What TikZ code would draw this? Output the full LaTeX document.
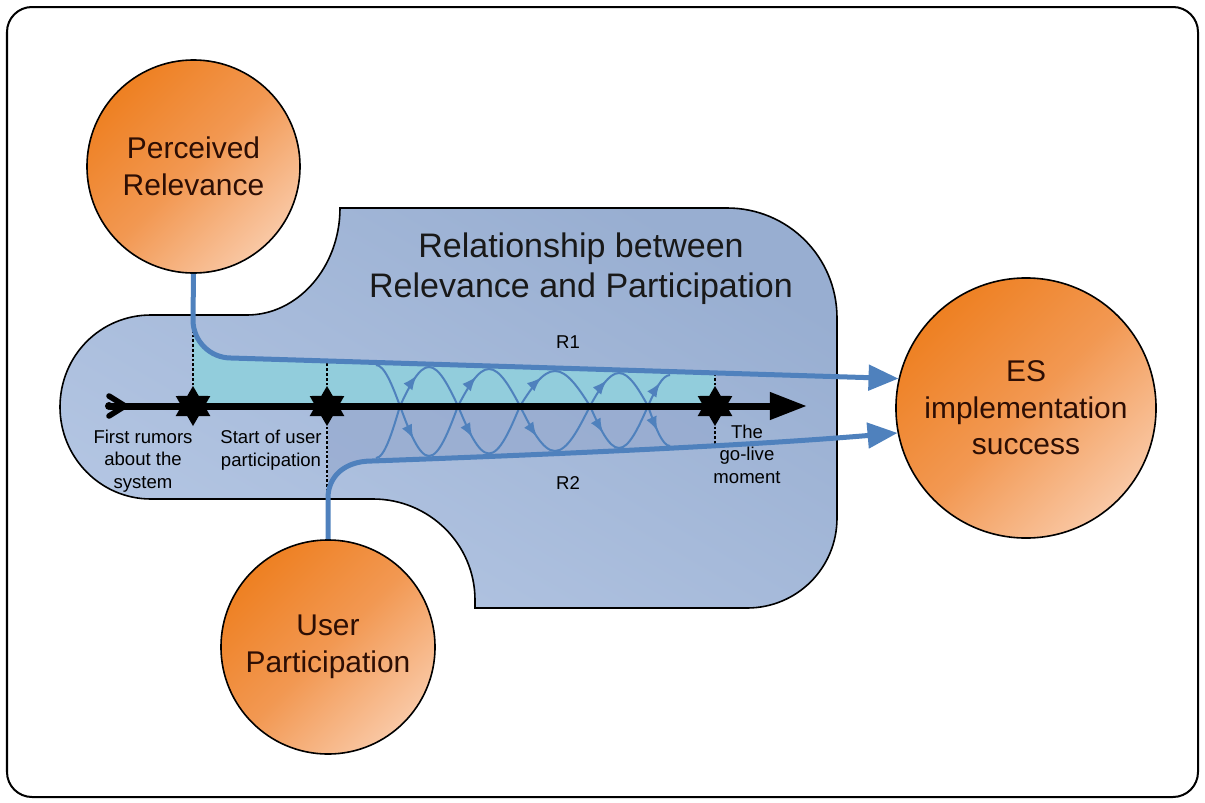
\documentclass[tikz,border=0pt]{standalone}
\usepackage{fontspec}
\setmainfont{Liberation Sans}
\usetikzlibrary{arrows.meta,shapes.geometric,decorations.markings}
\definecolor{rblue}{RGB}{79,129,189}
\definecolor{regA}{RGB}{152,174,209}
\definecolor{regB}{RGB}{180,198,227}
\definecolor{cyanfill}{RGB}{146,205,220}
\definecolor{bandfill}{RGB}{150,170,207}
\definecolor{orA}{RGB}{238,128,34}
\definecolor{orM}{RGB}{242,152,82}
\definecolor{orB}{RGB}{249,200,165}
\definecolor{ctext}{RGB}{45,14,4}
% #1 style, #2 crossing x, #3,#4 left end, #5,#6 right end
\newcommand\wv[6]{\draw[#1] (#3,#4) .. controls ({#2+0.65*(#3-#2)},#4) and ({#2+0.3253*(#3-#2)},{406+0.511*(#4-406)}) .. (#2,406) .. controls ({#2+0.3253*(#5-#2)},{406+0.511*(#6-406)}) and ({#2+0.65*(#5-#2)},#6) .. (#5,#6);}
\begin{document}
\begin{tikzpicture}[x=0.025cm,y=-0.025cm,
  frame/.style={draw=black,line width=0.05cm,rounded corners=0.625cm},
  region/.style={draw=black,line width=0.04cm,top color=regA,bottom color=regB,shading angle=-30},
  rline/.style={draw=rblue,line width=0.125cm,-{Triangle[length=0.75cm,width=0.625cm]}},
  wavebase/.style={rblue,line width=0.05cm,postaction={decorate}},
  wavedown/.style={wavebase,decoration={markings,mark=at position 0.78 with {\arrow{Latex[length=0.36cm,width=0.28cm]}}}},
  waveup/.style={wavebase,decoration={markings,mark=at position 0.86 with {\arrow{Latex[length=0.36cm,width=0.28cm]}}}},
  dline/.style={draw=black,line width=0.04cm,dash pattern=on 0.07cm off 0.05cm},
  startick/.style={star,star points=6,star point ratio=1.73,minimum size=1.0cm,fill=black,inner sep=0pt},
  bigcirc/.style={circle,draw=black,line width=0.04cm,inner sep=0pt,align=center,text=ctext,font=\fontsize{21.3pt}{26pt}\selectfont,top color=orA,bottom color=orB,middle color=orM,shading angle=45},
  small/.style={align=center,font=\fontsize{13.2pt}{16pt}\selectfont,inner sep=0pt}
]
\useasboundingbox (0,0) rectangle (1205,803);
\draw[frame] (7,7) rectangle (1198,797);

% blue region
\path[region] (151,315) -- (247,315)
  .. controls (298,315) and (340,267) .. (340,208)
  -- (727,208)
  .. controls (788,208) and (837,257) .. (837,318)
  -- (837,518)
  .. controls (837,568) and (797,608) .. (747,608)
  -- (475,608) -- (475,600)
  .. controls (475,544) and (429,499) .. (373,499)
  -- (151,499)
  .. controls (100,499) and (60,457) .. (60,407)
  .. controls (60,356) and (100,315) .. (151,315) -- cycle;

% cyan band and darker band
\fill[cyanfill] (193,320) .. controls (193,341) and (210,358) .. (231,358) -- (715,374.3) -- (715,406) -- (193,406) -- cycle;
\fill[bandfill,opacity=0.7] (328,406) -- (328,498) .. controls (328,477) and (344,461) .. (372,461) -- (715,447) -- (715,406) -- cycle;

% waves
\wv{wavedown}{400}{376}{365}{429}{456}
\wv{waveup}{400}{376}{458}{429}{367}
\wv{waveup}{458}{429}{456}{489}{369}
\wv{wavedown}{458}{429}{367}{489}{453.5}
\wv{wavedown}{520}{489}{369}{555}{451}
\wv{waveup}{520}{489}{453.5}{555}{371}
\wv{wavedown}{590}{555}{371}{619}{448}
\wv{waveup}{590}{555}{451}{619}{373}
\wv{wavedown}{648}{619}{373}{670}{446}
\wv{waveup}{648}{619}{448}{670}{375}

% time axis
\draw[line width=0.175cm,-{Triangle[length=0.925cm,width=0.65cm]}] (110,406) -- (807,406);
\draw[line width=0.14cm,line cap=round,line join=round] (109,396) -- (125,406) -- (109,416);
\fill (109,406) circle[radius=0.1cm];

% stars
\node[startick] (s1) at (193,406) {};
\node[startick] (s2) at (327,406) {};
\node[startick] (s3) at (715,406) {};
\draw[dline] (s1.north) -- (193,322);
\draw[dline] (s2.north) -- (327,362);
\draw[dline] (s2.south) -- (327,498);
\draw[dline] (s3.north) -- (715,375);
\draw[dline] (s3.south) -- (715,446);

% circles
\node[bigcirc,minimum size=5.325cm] (pr) at (193.5,166.5) {Perceived\\Relevance};
\node[bigcirc,minimum size=6.5cm] (es) at (1026,408) {ES\\implementation\\success};
\node[bigcirc,minimum size=5.35cm] (up) at (328,647) {User\\Participation};

% connectors
\draw[rline] (pr.south) -- (193,320) .. controls (193,341) and (210,358) .. (231,358) -- (es.167.8);
\draw[rline] (up.north) -- (328,498) .. controls (328,477) and (344,461) .. (372,461) .. controls (620,452) and (780,443) .. (es.191.5);

% texts
\node[align=center,font=\fontsize{24.2pt}{28.5pt}\selectfont,text=black!90,inner sep=0pt] (title) at (581,269) {Relationship between\\Relevance and Participation};
\node[small] (l1) at (143,461) {First rumors\\about the\\system};
\node[small] (l2) at (271,450) {Start of user\\participation};
\node[small] (l3) at (747,454) {The\\go-live\\moment};
\node[small] (r1) at (568,342) {R1};
\node[small] (r2) at (568,483) {R2};
\end{tikzpicture}
\end{document}
